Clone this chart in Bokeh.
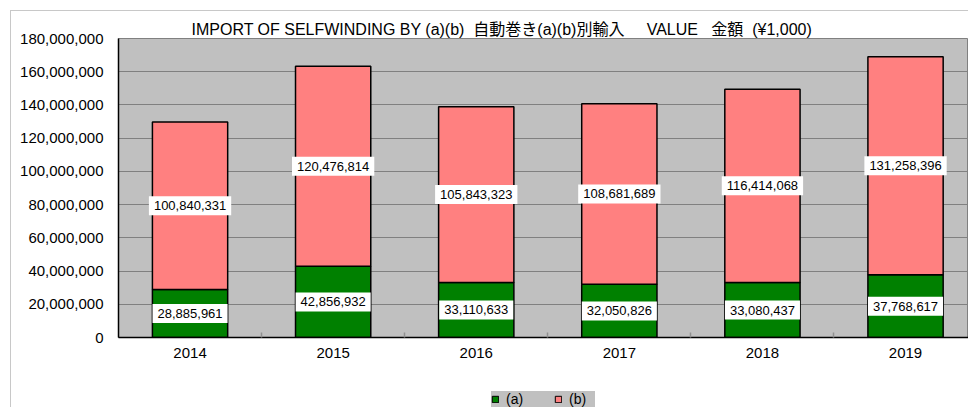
from bokeh.plotting import figure
from bokeh.layouts import column
from bokeh.models import (ColumnDataSource, Range1d, FixedTicker, NumeralTickFormatter,
                          Legend, LegendItem)
from bokeh.core.properties import value
from bokeh.embed import file_html
from bokeh.resources import INLINE

years = ["2014", "2015", "2016", "2017", "2018", "2019"]
series_a = [28885961, 42856932, 33110633, 32050826, 33080437, 37768617]
series_b = [100840331, 120476814, 105843323, 108681689, 116414068, 131258396]
series_names = ["(a)", "(b)"]
series_colors = ["#008000", "#ff8080"]
y_ticks = [0, 20000000, 40000000, 60000000, 80000000, 100000000,
           120000000, 140000000, 160000000, 180000000]
NB = "\u00a0"
title_text = ("IMPORT OF SELFWINDING BY (a)(b)" + NB * 2 + "自動巻き(a)(b)別輸入" + NB * 5
              + "VALUE" + NB * 3 + "金額" + NB * 2 + "(¥1,000)")

xs = list(range(len(years)))
mid_a = [a / 2 for a in series_a]
mid_b = [a + b / 2 for a, b in zip(series_a, series_b)]
src = ColumnDataSource(dict(
    x=xs, a=series_a, b=series_b, mid_a=mid_a, mid_b=mid_b,
    lab_a=[f"{v:,}" for v in series_a], lab_b=[f"{v:,}" for v in series_b],
))

p = figure(width=957, height=360, output_backend="svg", toolbar_location=None,
           x_range=Range1d(-0.5, 5.44), y_range=Range1d(0, 180000000),
           min_border_left=107, min_border_right=0, min_border_top=27,
           min_border_bottom=34)

p.background_fill_color = "#c0c0c0"
p.border_fill_color = "white"
p.outline_line_color = "#808080"

p.title.text = title_text
p.title.align = "left"
p.title.offset = 73
p.title.text_font = "Liberation Sans, Noto Sans CJK JP"
p.title.text_font_size = "16px"
p.title.text_font_style = "normal"
p.title.text_color = "black"
p.title.standoff = 2

rs = p.vbar_stack(["a", "b"], x="x", width=0.526, source=src,
                  color=series_colors, line_color="black", line_width=1.5)

p.xgrid.visible = False
p.ygrid.ticker = FixedTicker(ticks=y_ticks)
p.ygrid.grid_line_color = "#808080"
p.ygrid.grid_line_width = 1

p.yaxis.ticker = FixedTicker(ticks=y_ticks)
p.yaxis.formatter = NumeralTickFormatter(format="0,0")
p.yaxis.axis_line_color = "black"
p.yaxis.axis_line_width = 1.5
p.yaxis.major_tick_out = 0
p.yaxis.major_tick_in = 0
p.yaxis.minor_tick_out = 0
p.yaxis.minor_tick_in = 0
p.yaxis.major_label_standoff = 15
p.yaxis.major_label_text_font = "Liberation Sans"
p.yaxis.major_label_text_font_size = "15px"
p.yaxis.major_label_text_color = "black"

p.xaxis.ticker = FixedTicker(ticks=xs, minor_ticks=[i + 0.5 for i in xs[:-1]])
p.xaxis.major_label_overrides = {i: y for i, y in zip(xs, years)}
p.xaxis.axis_line_color = "black"
p.xaxis.axis_line_width = 1.5
p.xaxis.major_tick_out = 0
p.xaxis.major_tick_in = 0
p.xaxis.minor_tick_out = 0
p.xaxis.minor_tick_in = 5
p.xaxis.minor_tick_line_color = "#909090"
p.xaxis.minor_tick_line_width = 1.5
p.xaxis.major_label_standoff = 10
p.xaxis.major_label_text_font = "Liberation Sans"
p.xaxis.major_label_text_font_size = "15px"
p.xaxis.major_label_text_color = "black"

for col, lab in (("mid_a", "lab_a"), ("mid_b", "lab_b")):
    p.text(x="x", y=col, text=lab, source=src, text_align="center",
           text_baseline="middle", text_font=value("Liberation Sans"),
           text_font_size="13px", text_color="black",
           background_fill_color="white", padding=5)

# legend strip below the chart (proxy glyphs lie far outside its visible range)
p2 = figure(width=957, height=36, output_backend="svg", toolbar_location=None,
            x_range=Range1d(0, 1), y_range=Range1d(0, 1),
            x_axis_type=None, y_axis_type=None, min_border=0)
p2.outline_line_color = None
p2.background_fill_color = "white"
p2.border_fill_color = "white"
p2.xgrid.visible = False
p2.ygrid.visible = False
dummies = [p2.vbar(x=[50], top=[60], bottom=[50], width=0.1, fill_color=c,
                   line_color="black", line_width=1) for c in series_colors]
legend = Legend(items=[LegendItem(label=n, renderers=[r]) for n, r in zip(series_names, dummies)],
                orientation="horizontal", location=(373, 0),
                background_fill_color="#c0c0c0", background_fill_alpha=1,
                border_line_color=None, glyph_width=8, glyph_height=8,
                label_width=26, label_height=16,
                label_text_font="Liberation Sans", label_text_font_size="14px",
                label_text_color="black",
                label_standoff=7, spacing=22, padding=4, margin=0)
p2.add_layout(legend, "center")

layout = column(p, p2, spacing=0)
layout.styles = {"margin-left": "10px", "margin-top": "10px",
                 "border-left": "1px solid #c8c8c8", "border-top": "1px solid #c8c8c8"}

open("out.html", "w").write(file_html(layout, INLINE))
